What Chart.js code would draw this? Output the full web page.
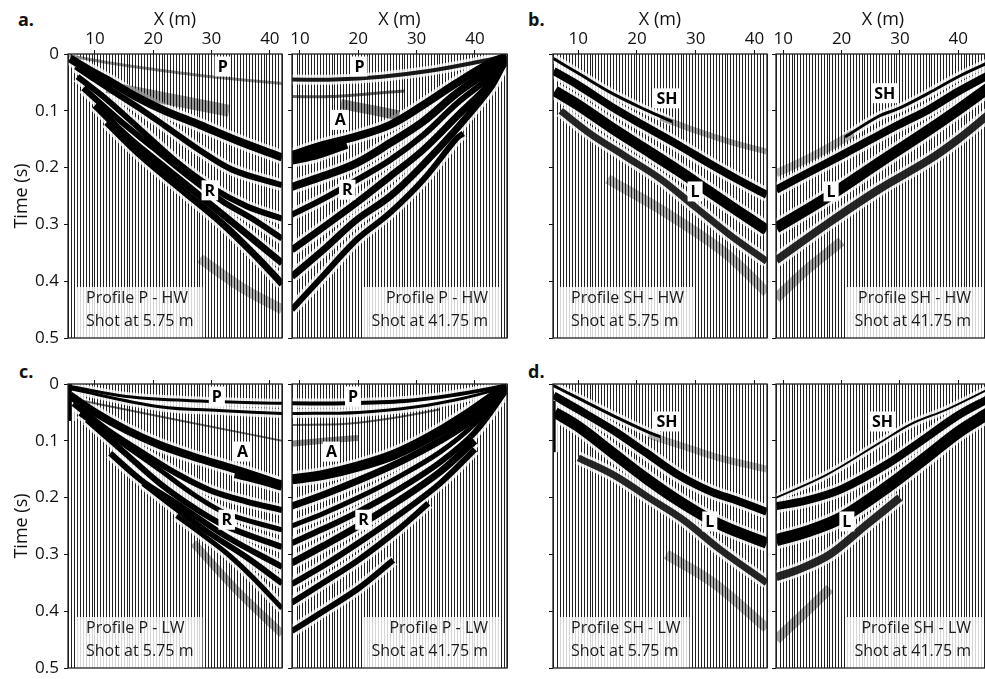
<!DOCTYPE html>
<html><head><meta charset="utf-8">
<script src="https://cdn.jsdelivr.net/npm/chart.js@4.4.1/dist/chart.umd.min.js"></script>
<style>
html,body{margin:0;padding:0;background:#fff;overflow:hidden;width:985px;height:679px}
#wrap{position:relative;width:985px;height:679px;overflow:hidden;background:#fff}
#wrap canvas{position:absolute}
.plab{position:absolute;font:bold 18px "Open Sans",sans-serif;color:#111;line-height:20px}
</style></head><body><div id="wrap">
<div class="plab" style="left:18px;top:9px">a.</div>
<div class="plab" style="left:528px;top:9px">b.</div>
<div class="plab" style="left:19px;top:361px">c.</div>
<div class="plab" style="left:528px;top:361px">d.</div>
</div>
<script>
// ---------- tick / text content ----------
const xTickLabels = [10, 20, 30, 40];
const yTickLabels = [0, 0.1, 0.2, 0.3, 0.4, 0.5];
const traceSpacing = 0.5; // m between traces

// ---------- picked events: [x (m), time (s)] ----------
// a. left : Profile P - HW, shot 5.75 m
const aL_P    = [[5.6,.003],[12,.015],[20,.027],[30,.04],[42.1,.052]];
const aL_blob = [[12,.058],[17,.068],[22,.078],[28,.09],[33,.1]];
const aL_B1   = [[5.7,.008],[9,.028],[12,.045],[17,.075],[22,.1],[28,.125],[35,.155],[42.1,.182]];
const aL_B2   = [[6.7,.022],[10,.045],[13.6,.069],[18,.098],[22.2,.128],[27.9,.169],[33.6,.204],[42.1,.231]];
const aL_B3   = [[7,.04],[12,.08],[18,.135],[24,.19],[30,.235],[36,.268],[42.1,.29]];
const aL_B4   = [[8,.06],[14,.115],[20,.165],[26,.215],[32,.26],[37,.29],[42.1,.325]];
const aL_B5   = [[10,.09],[16,.15],[22,.2],[28,.25],[34,.3],[42.1,.368]];
const aL_B6   = [[12,.12],[18,.18],[25,.24],[32,.3],[38,.36],[42.1,.405]];
const aL_G    = [[28,.36],[35,.41],[42.1,.45]];
// a. right : Profile P - HW, shot 41.75 m
const aR_P1   = [[8.6,.045],[16,.045],[24,.04],[32,.03],[40,.015],[45.4,.003]];
const aR_P2   = [[8.6,.075],[15,.075],[22,.07],[28,.065]];
const aR_blob = [[17,.088],[22,.098],[27,.108]];
const aR_A    = [[45.4,.004],[42.6,.016],[36.9,.051],[31.1,.09],[25.4,.125],[19.7,.145],[14,.16],[8.6,.178]];
const aR_A2   = [[8.6,.186],[13,.176],[18,.158]];
const aR_L2   = [[45.4,.006],[42.6,.028],[36.9,.069],[31.1,.119],[25.4,.157],[19.7,.192],[14,.215],[8.6,.234]];
const aR_L3   = [[45.4,.008],[42.6,.04],[36.9,.087],[31.1,.143],[25.4,.187],[19.7,.222],[14,.255],[8.6,.283]];
const aR_L4   = [[45.4,.01],[42.6,.052],[36.9,.11],[31.1,.169],[25.4,.216],[19.7,.262],[14,.305],[8.6,.345]];
const aR_L5   = [[45,.015],[42.6,.06],[36.9,.131],[31.1,.195],[25.4,.251],[19.7,.292],[14,.345],[8.6,.392]];
const aR_L6   = [[38,.14],[36.9,.148],[31.1,.222],[25.4,.28],[19.7,.327],[14,.39],[8.6,.45]];
// b. left : Profile SH - HW, shot 5.75 m
const bL_SH   = [[5.8,.008],[10,.034],[15.7,.069],[21.4,.098],[26,.119]];
const bL_SHg  = [[24,.112],[30,.135],[36,.155],[42.1,.172]];
const bL_B1   = [[5.8,.03],[10,.055],[15.7,.093],[21,.125],[27,.16],[32.7,.195],[37,.22],[42.1,.248]];
const bL_B2   = [[6,.065],[10,.09],[15.7,.13],[21,.165],[27,.205],[32,.24],[37,.275],[42.1,.31]];
const bL_B3   = [[7,.1],[12,.14],[18,.18],[24,.22],[30,.27],[36,.32],[42.1,.365]];
const bL_G    = [[15,.22],[25,.28],[35,.35],[42.1,.42]];
// b. right : Profile SH - HW, shot 41.75 m
const bR_SH   = [[45.4,.014],[40,.04],[34.9,.069],[30,.095],[26.3,.11],[20.6,.146]];
const bR_SHg  = [[22,.14],[15,.18],[8.8,.21]];
const bR_B1   = [[45.4,.036],[40,.066],[34.9,.098],[29.1,.128],[20.6,.175],[15,.205],[8.8,.239]];
const bR_B2   = [[45.4,.058],[40,.098],[34.9,.134],[26.3,.192],[17.7,.251],[8.8,.306]];
const bR_B3   = [[45.4,.105],[40,.15],[34.9,.187],[26.3,.239],[17.7,.298],[8.8,.363]];
const bR_G    = [[20,.33],[14,.38],[8.8,.43]];
// c. left : Profile P - LW, shot 5.75 m
const cL_P1   = [[5.6,.004],[15.4,.022],[28,.03],[42.1,.034]];
const cL_P2   = [[5.6,.008],[21.1,.04],[32,.047],[42.1,.052]];
const cL_P3   = [[8,.03],[25,.065],[42.1,.1]];
const cL_edge = [[5.6,0],[5.6,.065]];
const cL_A    = [[5.7,.02],[10,.05],[15.4,.081],[21,.107],[26.9,.128],[34.3,.151],[42.1,.177]];
const cL_Aw   = [[34,.158],[38,.168],[42.1,.18]];
const cL_B2   = [[6.3,.034],[12,.08],[18.3,.122],[24,.158],[29.7,.187],[36,.207],[42.1,.222]];
const cL_B3   = [[7.4,.052],[14,.1],[21.1,.151],[27,.195],[32.6,.228],[42.1,.257]];
const cL_B4   = [[8.6,.063],[15,.12],[21.1,.175],[27,.218],[32.6,.251],[42.1,.287]];
const cL_B5   = [[12.6,.122],[18,.17],[24,.21],[32.6,.269],[42.1,.322]];
const cL_B6   = [[18.3,.175],[24,.22],[29.7,.263],[36,.305],[42.1,.351]];
const cL_B7   = [[24,.232],[28,.262],[32.6,.298],[37,.34],[42.1,.395]];
const cL_G    = [[26.9,.28],[34,.36],[42.1,.44]];
// c. right : Profile P - LW, shot 41.75 m
const cR_P1   = [[8.6,.034],[18,.034],[28,.03],[36,.02],[45.4,.003]];
const cR_P2   = [[8.6,.052],[20,.05],[30,.04],[38,.025],[45.4,.005]];
const cR_P3   = [[8.6,.072],[18,.07],[26,.06],[34,.045]];
const cR_N    = [[8.6,.105],[14,.1],[20,.095]];
const cR_A    = [[8.6,.168],[14,.16],[20,.145],[26,.125],[32,.095],[38,.058],[45.4,.005]];
const cR_B2   = [[8.6,.215],[14,.195],[20,.17],[27,.138],[34,.1],[40,.06],[45.4,.006]];
const cR_B3   = [[8.6,.25],[14,.228],[20,.2],[27,.163],[34,.12],[40,.07],[45.4,.008]];
const cR_B4   = [[8.6,.28],[14,.255],[20,.225],[27,.185],[34,.138],[40,.085],[45.4,.01]];
const cR_B5   = [[8.6,.315],[14,.285],[20,.25],[27,.205],[34,.155],[40,.1]];
const cR_B6   = [[8.6,.352],[14,.32],[20,.28],[27,.23],[34,.175],[40,.115]];
const cR_B7   = [[8.6,.385],[14,.35],[20,.31],[27,.255],[32,.21]];
const cR_B8   = [[8.6,.435],[14,.4],[20,.36],[26,.31]];
// d. left : Profile SH - LW, shot 5.75 m
const dL_SH   = [[5.8,.003],[10,.025],[16,.056],[22,.085],[24,.093]];
const dL_SHg  = [[22,.09],[28,.11],[34,.13],[42.1,.15]];
const dL_edge = [[5.8,.03],[5.8,.12]];
const dL_B1   = [[5.8,.02],[10,.045],[15.7,.08],[21.4,.12],[27,.16],[32.7,.19],[37,.205],[42.1,.225]];
const dL_B2   = [[6,.05],[10,.075],[15.7,.12],[21.4,.165],[27,.205],[32.7,.24],[37,.26],[42.1,.28]];
const dL_B3   = [[10,.13],[16,.16],[22,.2],[28,.24],[34,.29],[42.1,.35]];
const dL_G    = [[25,.3],[33,.35],[42.1,.43]];
// d. right : Profile SH - LW, shot 41.75 m
const dR_SH   = [[45.4,.008],[38,.045],[32,.07],[26.3,.105],[17.4,.16],[8.8,.2]];
const dR_B1   = [[45.4,.025],[40,.055],[34.4,.095],[28,.14],[20,.185],[14,.205],[8.8,.215]];
const dR_B2   = [[45.4,.05],[40,.085],[34.4,.13],[28,.18],[20,.235],[14,.26],[8.8,.275]];
const dR_B3   = [[30,.2],[24,.25],[18,.3],[13,.325],[8.8,.34]];
const dR_G    = [[18,.36],[14,.4],[8.8,.45]];

// ---------- phase labels: [text, x (m), time (s)] ----------
const aL_marks = [['P',31.9,.022],['R',29.7,.24]];
const aR_marks = [['P',20.2,.022],['A',16.9,.116],['R',18.1,.239]];
const bL_marks = [['SH',25.1,.078],['L',29.9,.242]];
const bR_marks = [['SH',27.4,.069],['L',18.2,.242]];
const cL_marks = [['P',30.9,.022],['A',35.3,.119],['R',32.6,.239]];
const cR_marks = [['P',19.1,.022],['A',15.4,.119],['R',20.9,.239]];
const dL_marks = [['SH',25.1,.066],['L',32.4,.242]];
const dR_marks = [['SH',27.0,.066],['L',20.9,.242]];

// ---------- panel captions ----------
const captions = {
  aL:['Profile P - HW','Shot at 5.75 m'], aR:['Profile P - HW','Shot at 41.75 m'],
  bL:['Profile SH - HW','Shot at 5.75 m'], bR:['Profile SH - HW','Shot at 41.75 m'],
  cL:['Profile P - LW','Shot at 5.75 m'], cR:['Profile P - LW','Shot at 41.75 m'],
  dL:['Profile SH - LW','Shot at 5.75 m'], dR:['Profile SH - LW','Shot at 41.75 m']
};

// ---------- styles (line width px, opacity) per event ----------
const aL_style = [[3,.45],[12,.4],[8,1],[6,1],[6,1],[6,1],[7,1],[7,1],[10,.3]];
const aR_style = [[4,.9],[3,.6],[10,.45],[8,1],[10,1],[8,1],[6,1],[7,1],[7,1],[6,1]];
const bL_style = [[3,1],[6,.35],[8,1],[11,1],[7,.85],[10,.3]];
const bR_style = [[3,1],[8,.3],[8,1],[11,1],[8,.85],[10,.35]];
const cL_style = [[3,1],[3,1],[2,.6],[5,1],[8,1],[9,1],[6,1],[5,1],[6,1],[6,1],[6,1],[5,1],[8,.35]];
const cR_style = [[4,1],[3,1],[2,.6],[6,.45],[10,1],[7,1],[5,1],[6,1],[7,1],[6,1],[6,1],[6,1]];
const dL_style = [[3,1],[7,.3],[4,1],[8,1],[11,1],[7,.85],[10,.3]];
const dR_style = [[2,1],[8,1],[12,1],[8,.85],[10,.35]];

const panels = [
  {id:'aL', box:[68,54,214,284], xr:[5.37,42.08], row:0, labels:true,  align:'left',
   events:[aL_P,aL_blob,aL_B1,aL_B2,aL_B3,aL_B4,aL_B5,aL_B6,aL_G], style:aL_style, marks:aL_marks},
  {id:'aR', box:[292,54,215,284], xr:[8.63,45.5], row:0, labels:false, align:'right',
   events:[aR_P1,aR_P2,aR_blob,aR_A,aR_A2,aR_L2,aR_L3,aR_L4,aR_L5,aR_L6], style:aR_style, marks:aR_marks},
  {id:'bL', box:[553,54,214,284], xr:[5.69,42.15], row:0, labels:false, align:'left',
   events:[bL_SH,bL_SHg,bL_B1,bL_B2,bL_B3,bL_G], style:bL_style, marks:bL_marks},
  {id:'bR', box:[776,54,214,284], xr:[8.75,45.45], row:0, labels:false, align:'right',
   events:[bR_SH,bR_SHg,bR_B1,bR_B2,bR_B3,bR_G], style:bR_style, marks:bR_marks},
  {id:'cL', box:[68,384,214,284], xr:[5.37,42.08], row:1, labels:true,  align:'left',
   events:[cL_P1,cL_P2,cL_P3,cL_edge,cL_A,cL_Aw,cL_B2,cL_B3,cL_B4,cL_B5,cL_B6,cL_B7,cL_G], style:cL_style, marks:cL_marks},
  {id:'cR', box:[292,384,215,284], xr:[8.63,45.5], row:1, labels:false, align:'right',
   events:[cR_P1,cR_P2,cR_P3,cR_N,cR_A,cR_B2,cR_B3,cR_B4,cR_B5,cR_B6,cR_B7,cR_B8], style:cR_style, marks:cR_marks},
  {id:'dL', box:[553,384,214,284], xr:[5.69,42.15], row:1, labels:false, align:'left',
   events:[dL_SH,dL_SHg,dL_edge,dL_B1,dL_B2,dL_B3,dL_G], style:dL_style, marks:dL_marks},
  {id:'dR', box:[776,384,214,284], xr:[8.75,45.45], row:1, labels:false, align:'right',
   events:[dR_SH,dR_B1,dR_B2,dR_B3,dR_G], style:dR_style, marks:dR_marks}
];

const FONT = '"Open Sans", sans-serif';
Chart.defaults.font.family = FONT;
Chart.defaults.color = '#111';

const isTen = v => xTickLabels.some(t => Math.abs(v - t) < 1e-6);

function makeOverlay(p) {
  return {
    id: 'overlay_' + p.id,
    afterDatasetsDraw(chart) {
      const {ctx, chartArea: a, scales: {x, y}} = chart;
      const cap = captions[p.id];
      ctx.save();
      ctx.font = '16px ' + FONT;
      const w = Math.max(...cap.map(s => ctx.measureText(s).width));
      let tx, bx;
      if (p.align === 'left') { tx = a.left + 18; bx = tx - 11; }
      else { tx = a.right - 19; bx = tx - w - 8; }
      ctx.fillStyle = 'rgba(255,255,255,0.82)';
      ctx.fillRect(bx, a.bottom - 51, w + 20, 51);
      ctx.fillStyle = '#1a1a1a';
      ctx.textAlign = p.align; ctx.textBaseline = 'alphabetic';
      ctx.fillText(cap[0], tx, a.bottom - 35);
      ctx.fillText(cap[1], tx, a.bottom - 12);
      ctx.font = 'bold 16px ' + FONT;
      ctx.textAlign = 'center'; ctx.textBaseline = 'middle';
      p.marks.forEach(([s, mx, mt]) => {
        const px = x.getPixelForValue(mx), py = y.getPixelForValue(mt);
        const tw = ctx.measureText(s).width;
        ctx.fillStyle = '#fff';
        ctx.fillRect(px - tw / 2 - 3, py - 10, tw + 6, 20);
        ctx.fillStyle = '#000';
        ctx.fillText(s, px, py + 1);
      });
      ctx.restore();
    },
    afterDraw(chart) {
      const {ctx, chartArea: a} = chart;
      ctx.save();
      ctx.strokeStyle = '#222'; ctx.lineWidth = 1.3;
      ctx.strokeRect(a.left, a.top, a.right - a.left, a.bottom - a.top);
      ctx.restore();
    }
  };
}

function build() {
  const wrap = document.getElementById('wrap');
  panels.forEach(p => {
    const [L, T, W, H] = p.box;
    const padL = p.labels ? L : 8;
    const padT = p.row === 0 ? T : 10;
    const padR = 2, padB = p.labels ? 14 : 2;
    const cv = document.createElement('canvas');
    const cw = W + padL + padR, ch = H + padT + padB;
    cv.style.left = (L - padL) + 'px'; cv.style.top = (T - padT) + 'px';
    cv.style.width = cw + 'px'; cv.style.height = ch + 'px';
    cv.width = cw; cv.height = ch;
    wrap.appendChild(cv);

    const datasets = [];
    p.events.forEach((ev, i) => {
      const [lw, al] = p.style[i];
      const pts = ev.map(([x, y]) => ({x, y}));
      if (al >= 0.8) {
        datasets.push({data: pts, borderColor: 'rgba(255,255,255,0.8)', borderWidth: lw + 6,
          pointRadius: 0, tension: 0.35, fill: false, clip: 0, order: 2, borderCapStyle: 'butt'});
      }
      datasets.push({data: pts, borderColor: `rgba(0,0,0,${al})`, borderWidth: lw,
        pointRadius: 0, tension: 0.35, fill: false, clip: 0, order: al >= 0.8 ? 0 : 1, borderCapStyle: 'butt'});
    });

    new Chart(cv, {
      type: 'line',
      data: {datasets},
      options: {
        responsive: false, animation: false, parsing: true,
        layout: {padding: {left: 0, top: 0, right: padR, bottom: padB}},
        plugins: {legend: {display: false}, tooltip: {enabled: false}},
        scales: {
          x: {
            type: 'linear', position: 'top', min: p.xr[0], max: p.xr[1],
            ticks: {stepSize: traceSpacing, autoSkip: false, maxRotation: 0, minRotation: 0,
              display: p.row === 0, padding: 1, color: '#111', font: {size: 17},
              callback: v => isTen(v) ? String(Math.round(v)) : ''},
            grid: {drawOnChartArea: true, drawTicks: true, tickLength: 4, lineWidth: 1,
              color: 'rgba(20,20,20,0.95)',
              tickColor: c => (c.tick && isTen(c.tick.value)) ? '#111' : 'rgba(0,0,0,0)'},
            border: {display: false},
            title: {display: p.row === 0, text: 'X (m)', font: {size: 18}, color: '#111', padding: {top: 9, bottom: 0}},
            afterFit: s => { s.height = padT; s.paddingLeft = 0; s.paddingRight = 0; s.paddingTop = 0; s.paddingBottom = 0; }
          },
          y: {
            type: 'linear', position: 'left', reverse: true, min: 0, max: 0.5,
            afterBuildTicks: s => { s.ticks = yTickLabels.map(v => ({value: v})); },
            ticks: {display: p.labels, padding: 5, color: '#111', font: {size: 17},
              callback: v => v === 0 ? '0' : Number(v).toFixed(1)},
            grid: {drawOnChartArea: false, drawTicks: true, tickLength: 4, color: '#111', tickColor: '#111'},
            border: {display: false},
            title: {display: p.labels, text: 'Time (s)', font: {size: 18}, color: '#111', padding: {top: 11, bottom: 0}},
            afterFit: s => { s.width = padL; s.paddingTop = 0; s.paddingBottom = 0; s.paddingLeft = 0; s.paddingRight = 0; }
          }
        }
      },
      plugins: [makeOverlay(p)]
    });
  });
}
if (document.fonts && document.fonts.ready) document.fonts.ready.then(build); else build();
</script>
</body></html>
